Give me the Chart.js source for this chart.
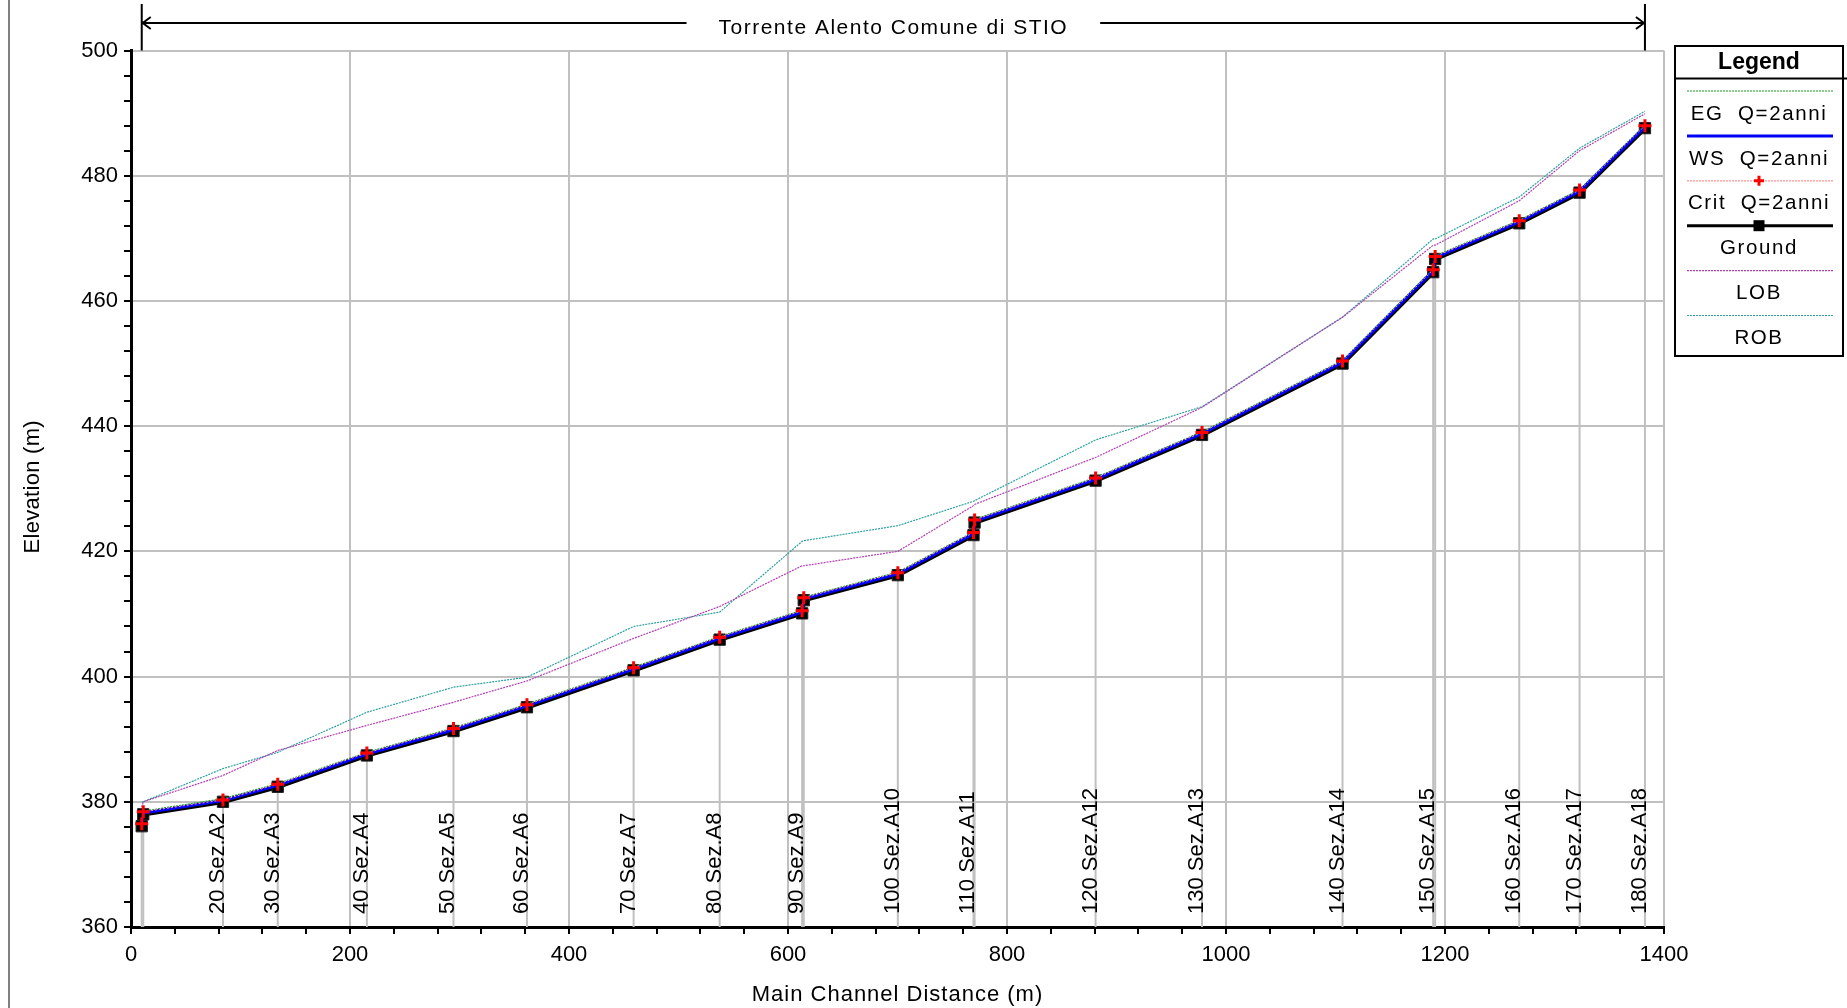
<!DOCTYPE html>
<html>
<head>
<meta charset="utf-8">
<script src="https://cdn.jsdelivr.net/npm/chart.js@4.4.1/dist/chart.umd.min.js"></script>
<style>
html, body { margin: 0; padding: 0; background: #fff; overflow: hidden; }
</style>
</head>
<body>
<canvas id="myChart" width="1847" height="1008"></canvas>
<script>
// cross sections, main channel distance (m)
const stationDist = [9.8, 11.2, 84, 134, 215.4, 294.5, 361.6, 459, 537.6, 612.9, 614.4, 700.3, 769.4, 770.4, 880.9, 978.1, 1106.4, 1189.2, 1191.0, 1267.8, 1322.9, 1382.6];
const stationNames = ['', '', '20 Sez.A2', '30 Sez.A3', '40 Sez.A4', '50 Sez.A5', '60 Sez.A6', '70 Sez.A7', '80 Sez.A8', '90 Sez.A9', '', '100 Sez.A10', '110 Sez.A11', '', '120 Sez.A12', '130 Sez.A13', '140 Sez.A14', '150 Sez.A15', '', '160 Sez.A16', '170 Sez.A17', '180 Sez.A18'];

// elevations (m)
const ground = [376.1, 378.0, 380.0, 382.4, 387.4, 391.3, 395.1, 401.0, 405.9, 410.1, 412.2, 416.2, 422.6, 424.6, 431.3, 438.6, 450.0, 464.6, 466.7, 472.4, 477.3, 487.6];
const wsQ2 = [376.3, 378.2, 380.2, 382.6, 387.6, 391.5, 395.3, 401.2, 406.1, 410.3, 412.4, 416.4, 422.8, 424.8, 431.5, 438.8, 450.2, 464.8, 466.9, 472.6, 477.5, 487.8];
const critQ2 = [376.5, 378.4, 380.3, 382.8, 387.8, 391.7, 395.5, 401.4, 406.3, 410.5, 412.6, 416.6, 423.0, 425.0, 431.7, 439.0, 450.4, 465.0, 467.1, 472.8, 477.7, 488.0];
const egQ2 = [376.6, 378.5, 380.5, 382.9, 387.9, 391.8, 395.6, 401.5, 406.4, 410.6, 412.7, 416.7, 423.1, 425.1, 431.8, 439.1, 450.5, 465.1, 467.2, 472.9, 477.8, 488.1];
const lob = [379.1, 380.0, 384.2, 388.2, 392.2, 395.9, 399.3, 406.1, 411.2, 417.7, 417.7, 420.0, 427.3, 427.5, 435.0, 443.0, 457.4, 468.9, 468.9, 476.0, 484.0, 489.9];
const rob = [380.0, 380.0, 385.3, 387.9, 394.3, 398.3, 399.9, 408.0, 410.3, 421.6, 421.7, 424.1, 428.0, 428.1, 437.8, 443.1, 457.4, 469.9, 469.9, 476.6, 484.4, 490.3];

const chartTitle = 'Torrente Alento Comune di STIO';
const xTitle = 'Main Channel Distance (m)';
const yTitle = 'Elevation (m)';
const legendItems = [
    { label: 'EG  Q=2anni', color: '#1a9a1a', width: 1.2, dash: [2, 1] },
    { label: 'WS  Q=2anni', color: '#0000ff', width: 3, dash: [] },
    { label: 'Crit  Q=2anni', color: '#ff9090', width: 1.2, dash: [2, 1], cross: true },
    { label: 'Ground', color: '#000000', width: 3, dash: [], square: true },
    { label: 'LOB', color: '#b040b0', width: 1.2, dash: [2, 1] },
    { label: 'ROB', color: '#30a0a0', width: 1.2, dash: [2, 1] }
];

const ctx = document.getElementById('myChart');
const FONT = '"Liberation Sans", Arial, sans-serif';

function pts(values) {
    return stationDist.map((d, i) => ({ x: d, y: values[i] }));
}

const stationPlugin = {
    id: 'stations',
    beforeDatasetsDraw(chart) {
        const c = chart.ctx;
        const xs = chart.scales.x, ys = chart.scales.y;
        const bottom = ys.getPixelForValue(360);
        c.save();
        c.strokeStyle = '#c0c0c0';
        c.lineWidth = 2;
        stationDist.forEach((d, i) => {
            const px = xs.getPixelForValue(d);
            c.beginPath();
            c.moveTo(px, bottom);
            c.lineTo(px, ys.getPixelForValue(ground[i]));
            c.stroke();
        });
        c.fillStyle = '#000';
        c.font = '22px ' + FONT;
        c.textAlign = 'left';
        c.textBaseline = 'alphabetic';
        stationDist.forEach((d, i) => {
            if (!stationNames[i]) return;
            const px = xs.getPixelForValue(d);
            c.save();
            c.translate(px + 1, bottom - 13);
            c.rotate(-Math.PI / 2);
            c.fillText(stationNames[i], 0, 0);
            c.restore();
        });
        c.restore();
    },
    afterDraw(chart) {
        const c = chart.ctx;
        const xs = chart.scales.x;
        const area = chart.chartArea;
        c.save();
        // left frame line
        c.strokeStyle = '#808080';
        c.lineWidth = 2;
        c.beginPath();
        c.moveTo(9, 0);
        c.lineTo(9, 1008);
        c.stroke();

        // axis titles
        c.fillStyle = '#000';
        c.font = '22px ' + FONT;
        c.letterSpacing = '1px';
        c.textAlign = 'center';
        c.textBaseline = 'middle';
        c.fillText(xTitle, (area.left + area.right) / 2, 995);
        c.letterSpacing = '0.3px';
        c.save();
        c.translate(33, (area.top + area.bottom) / 2 - 2);
        c.rotate(-Math.PI / 2);
        c.fillText(yTitle, 0, 0);
        c.restore();

        // title with reach arrow
        const x0 = xs.getPixelForValue(stationDist[0]);
        const x1 = xs.getPixelForValue(stationDist[stationDist.length - 1]);
        const ty = 23;
        const cx = (x0 + x1) / 2;
        c.font = '21px ' + FONT;
        c.letterSpacing = '1.5px';
        const tw = c.measureText(chartTitle).width;
        c.fillText(chartTitle, cx, 28);
        c.letterSpacing = '0px';
        c.strokeStyle = '#000';
        c.lineWidth = 2;
        c.beginPath();
        c.moveTo(x0, 4); c.lineTo(x0, area.top);
        c.moveTo(x1, 4); c.lineTo(x1, area.top);
        c.moveTo(x0, ty); c.lineTo(cx - tw / 2 - 32, ty);
        c.moveTo(cx + tw / 2 + 32, ty); c.lineTo(x1, ty);
        c.moveTo(x0 + 9, ty - 6); c.lineTo(x0 + 1, ty); c.lineTo(x0 + 9, ty + 6);
        c.moveTo(x1 - 9, ty - 6); c.lineTo(x1 - 1, ty); c.lineTo(x1 - 9, ty + 6);
        c.stroke();

        // legend box
        const lx = 1675, lw = 168, ltop = 46, lh = 310;
        c.lineWidth = 2;
        c.strokeRect(lx, ltop, lw, lh);
        c.beginPath();
        c.moveTo(lx, 78.5); c.lineTo(1847, 78.5);
        c.stroke();
        c.font = 'bold 23px ' + FONT;
        c.textAlign = 'center';
        c.fillText('Legend', lx + lw / 2, 63);
        const mid = lx + lw / 2;
        legendItems.forEach((it, i) => {
            const ly = 91 + i * 44.9;
            c.save();
            c.strokeStyle = it.color;
            c.lineWidth = it.width;
            c.setLineDash(it.dash);
            c.beginPath();
            c.moveTo(1687, ly); c.lineTo(1833, ly);
            c.stroke();
            c.restore();
            if (it.cross) {
                c.save();
                c.strokeStyle = '#ff0000';
                c.lineWidth = 3;
                c.beginPath();
                c.moveTo(mid - 5, ly); c.lineTo(mid + 5, ly);
                c.moveTo(mid, ly - 5); c.lineTo(mid, ly + 5);
                c.stroke();
                c.restore();
            }
            if (it.square) {
                c.fillStyle = '#000';
                c.fillRect(mid - 5.5, ly - 5.5, 11, 11);
            }
            c.fillStyle = '#000';
            c.font = '20.5px ' + FONT;
            c.letterSpacing = '1.6px';
            c.fillText(it.label, mid, ly + 23);
            c.letterSpacing = '0px';
        });
        c.restore();
    }
};

const gridColor = (c) => (c.tick && Math.abs(c.tick.value % (c.scale.axis === 'x' ? 200 : 20)) < 1e-6) ? '#c0c0c0' : 'rgba(0,0,0,0)';

new Chart(ctx, {
    type: 'scatter',
    data: {
        datasets: [
            {
                label: 'Crit Q=2anni',
                data: pts(critQ2),
                showLine: true,
                borderColor: '#ff9090',
                borderWidth: 1,
                borderDash: [2, 2],
                pointStyle: 'cross',
                pointRadius: 6.5,
                pointBorderWidth: 3,
                pointBorderColor: '#ff0000',
                order: 0
            },
            {
                label: 'WS Q=2anni',
                data: pts(wsQ2),
                showLine: true,
                borderColor: '#0000ff',
                borderWidth: 2.8,
                pointRadius: 0,
                order: 1
            },
            {
                label: 'EG Q=2anni',
                data: pts(egQ2),
                showLine: true,
                borderColor: '#1a9a1a',
                borderWidth: 1.2,
                borderDash: [2, 1],
                pointRadius: 0,
                order: 2
            },
            {
                label: 'Ground',
                data: pts(ground),
                showLine: true,
                borderColor: '#000000',
                borderWidth: 4.5,
                pointStyle: 'rect',
                pointRadius: 8,
                pointBackgroundColor: '#000',
                pointBorderColor: '#222',
                pointBorderWidth: 1,
                order: 3
            },
            {
                label: 'LOB',
                data: pts(lob),
                showLine: true,
                borderColor: '#b040b0',
                borderWidth: 1.2,
                borderDash: [2, 1],
                pointRadius: 0,
                order: 4
            },
            {
                label: 'ROB',
                data: pts(rob),
                showLine: true,
                borderColor: '#30a0a0',
                borderWidth: 1.2,
                borderDash: [2, 1],
                pointRadius: 0,
                order: 5
            }
        ]
    },
    options: {
        responsive: false,
        animation: false,
        events: [],
        layout: { padding: { left: 0, right: 183, top: 50.5, bottom: 0 } },
        plugins: {
            legend: { display: false },
            tooltip: { enabled: false }
        },
        scales: {
            x: {
                type: 'linear',
                min: 0,
                max: 1400,
                afterFit(s) { s.height = 81; },
                border: { color: '#000', width: 3 },
                grid: { color: gridColor, lineWidth: 2, tickColor: '#000', tickWidth: 2, tickLength: 7 },
                ticks: {
                    stepSize: 40,
                    autoSkip: false,
                    maxRotation: 0,
                    padding: 8,
                    color: '#000',
                    font: { family: FONT, size: 22 },
                    callback: v => (v % 200 === 0 ? v : '')
                }
            },
            y: {
                type: 'linear',
                min: 360,
                max: 500,
                afterFit(s) { s.width = 131; },
                border: { color: '#000', width: 3 },
                grid: { color: gridColor, lineWidth: 2, tickColor: '#000', tickWidth: 2, tickLength: 7 },
                ticks: {
                    stepSize: 4,
                    autoSkip: false,
                    padding: 6,
                    color: '#000',
                    font: { family: FONT, size: 22 },
                    callback: v => (v % 20 === 0 ? v : '')
                }
            }
        }
    },
    plugins: [stationPlugin]
});
</script>
</body>
</html>
